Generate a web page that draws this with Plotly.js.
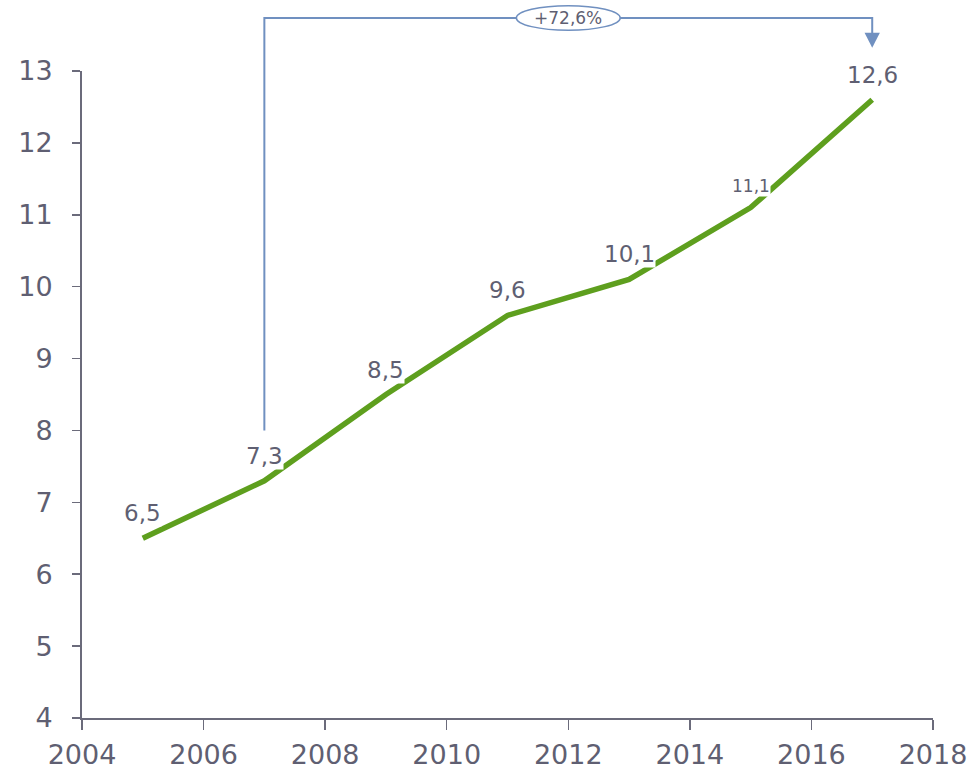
<!DOCTYPE html>
<html><head><meta charset="utf-8">
<script src="https://cdn.plot.ly/plotly-3.0.1.min.js"></script>
<style>html,body{margin:0;padding:0;background:#fff}#chart{width:975px;height:771px}</style>
</head><body><div id="chart"></div>
<script>
const years = [2005, 2007, 2009, 2011, 2013, 2015, 2017];
const values = [6.5, 7.3, 8.5, 9.6, 10.1, 11.1, 12.6];
const labels = ['6,5', '7,3', '8,5', '9,6', '10,1', '11,1', '12,6'];
const xTicks = [2004, 2006, 2008, 2010, 2012, 2014, 2016, 2018];
const yTicks = [4, 5, 6, 7, 8, 9, 10, 11, 12, 13];
const growthLabel = '+72,6%';
const bracketStartValue = 8.0;

const xRange = [2004, 2018], yRange = [4, 13];
const textColor = '#5f5f72', axisColor = '#6b6b7b', arrowColor = '#7090c0', green = '#5E9F1E';
const fontFam = 'DejaVu Sans, Verdana, sans-serif';
const px = x => (x - xRange[0]) / (xRange[1] - xRange[0]);
const py = y => (y - yRange[0]) / (yRange[1] - yRange[0]);

const x0 = px(years[1]), x1 = px(years[years.length - 1]);
const yTop = 1.082, yTip = 1.036;

const annotations = years.map((yr, i) => ({
  x: yr, y: values[i], xref: 'x', yref: 'y', text: labels[i], showarrow: false,
  xanchor: 'center', yanchor: 'middle',
  yshift: i === 5 ? 22 : 25, bgcolor: '#ffffff', borderpad: 0,
  font: {family: fontFam, size: i === 5 ? 17 : 23, color: textColor}
}));
annotations.push({
  x: (x0 + x1) / 2, y: yTop, xref: 'paper', yref: 'paper', text: growthLabel, showarrow: false,
  xanchor: 'center', yanchor: 'middle',
  font: {family: fontFam, size: 17, color: textColor}
});

const shapes = [
  {type: 'path', xref: 'paper', yref: 'paper',
   path: `M ${x0} ${py(bracketStartValue)} L ${x0} ${yTop} L ${x1} ${yTop} L ${x1} ${yTip + 0.02}`,
   line: {color: arrowColor, width: 2}},
  {type: 'path', xref: 'paper', yref: 'paper',
   path: `M ${x1 - 0.009} ${yTip + 0.023} L ${x1 + 0.009} ${yTip + 0.023} L ${x1} ${yTip} Z`,
   fillcolor: arrowColor, line: {color: arrowColor, width: 0}},
  {type: 'circle', xref: 'paper', yref: 'paper',
   x0: (x0 + x1) / 2 - 0.061, x1: (x0 + x1) / 2 + 0.061, y0: yTop - 0.019, y1: yTop + 0.019,
   fillcolor: '#ffffff', line: {color: arrowColor, width: 1.5}}
];

const trace = {
  x: years, y: values, type: 'scatter', mode: 'lines',
  line: {color: green, width: 5.5}, hoverinfo: 'skip'
};

const layout = {
  width: 975, height: 771,
  margin: {l: 82, r: 42, t: 71, b: 53},
  paper_bgcolor: '#ffffff', plot_bgcolor: '#ffffff',
  showlegend: false,
  xaxis: {
    range: xRange, tickvals: xTicks, ticktext: xTicks.map(String),
    showgrid: false, zeroline: false, showline: true, linecolor: axisColor, linewidth: 2,
    ticks: 'outside', ticklen: 10, tickcolor: axisColor, tickwidth: 1.5,
    ticklabelstandoff: 2,
    tickfont: {family: fontFam, size: 27, color: textColor},
    fixedrange: true
  },
  yaxis: {
    range: yRange, tickvals: yTicks, ticktext: yTicks.map(String),
    showgrid: false, zeroline: false, showline: true, linecolor: axisColor, linewidth: 2,
    ticks: 'outside', ticklen: 8, tickcolor: axisColor, tickwidth: 1.5,
    ticklabelstandoff: 14,
    tickfont: {family: fontFam, size: 27, color: textColor},
    fixedrange: true
  },
  annotations: annotations,
  shapes: shapes
};

Plotly.newPlot('chart', [trace], layout, {displayModeBar: false, staticPlot: true});
</script></body></html>
